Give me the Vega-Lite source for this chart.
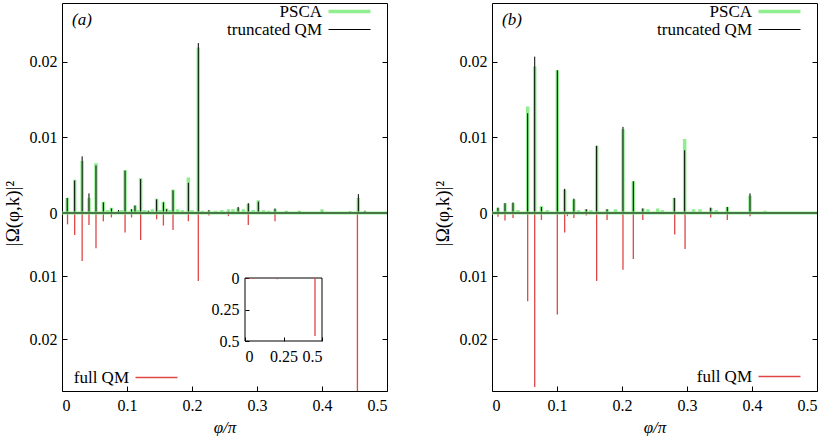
{
"$schema": "https://vega.github.io/schema/vega-lite/v6.json",
"autosize": {"type": "pad"},
"padding": {"left": 2, "top": 2, "right": 12, "bottom": 0},
"bounds": "flush",
"spacing": 105,
"config": {
  "font": "Liberation Serif",
  "view": {"stroke": "black", "strokeWidth": 1},
  "axis": {"labelColor": "black", "tickColor": "black", "labelFontSize": 16, "titleFontSize": 16, "titleFontWeight": "normal", "titleColor": "black", "grid": false, "domain": false, "labelFont": "Liberation Serif", "titleFont": "Liberation Serif"},
  "legend": {"labelFont": "Liberation Serif", "labelFontSize": 17, "labelColor": "black"}
},
"datasets": {
  "a_top": [
    {"phi": 0.008, "series": "PSCA", "value": 0.0020},
    {"phi": 0.0195, "series": "PSCA", "value": 0.0044},
    {"phi": 0.031, "series": "PSCA", "value": 0.0069},
    {"phi": 0.0415, "series": "PSCA", "value": 0.0020},
    {"phi": 0.0523, "series": "PSCA", "value": 0.0066},
    {"phi": 0.0636, "series": "PSCA", "value": 0.0015},
    {"phi": 0.07, "series": "PSCA", "value": 0.0004},
    {"phi": 0.076, "series": "PSCA", "value": 0.0007},
    {"phi": 0.087, "series": "PSCA", "value": 0.0003},
    {"phi": 0.092, "series": "PSCA", "value": 0.0004},
    {"phi": 0.097, "series": "PSCA", "value": 0.0057},
    {"phi": 0.107, "series": "PSCA", "value": 0.0005},
    {"phi": 0.1123, "series": "PSCA", "value": 0.0010},
    {"phi": 0.116, "series": "PSCA", "value": 0.0004},
    {"phi": 0.121, "series": "PSCA", "value": 0.0046},
    {"phi": 0.127, "series": "PSCA", "value": 0.0004},
    {"phi": 0.133, "series": "PSCA", "value": 0.0003},
    {"phi": 0.139, "series": "PSCA", "value": 0.0005},
    {"phi": 0.1456, "series": "PSCA", "value": 0.0019},
    {"phi": 0.151, "series": "PSCA", "value": 0.0004},
    {"phi": 0.156, "series": "PSCA", "value": 0.0015},
    {"phi": 0.161, "series": "PSCA", "value": 0.0006},
    {"phi": 0.166, "series": "PSCA", "value": 0.0004},
    {"phi": 0.1708, "series": "PSCA", "value": 0.0031},
    {"phi": 0.178, "series": "PSCA", "value": 0.0005},
    {"phi": 0.185, "series": "PSCA", "value": 0.0004},
    {"phi": 0.1944, "series": "PSCA", "value": 0.0047},
    {"phi": 0.2, "series": "PSCA", "value": 0.0004},
    {"phi": 0.2097, "series": "PSCA", "value": 0.0219},
    {"phi": 0.216, "series": "PSCA", "value": 0.0003},
    {"phi": 0.226, "series": "PSCA", "value": 0.0003},
    {"phi": 0.236, "series": "PSCA", "value": 0.0003},
    {"phi": 0.246, "series": "PSCA", "value": 0.0004},
    {"phi": 0.256, "series": "PSCA", "value": 0.0005},
    {"phi": 0.263, "series": "PSCA", "value": 0.0005},
    {"phi": 0.271, "series": "PSCA", "value": 0.0007},
    {"phi": 0.279, "series": "PSCA", "value": 0.0005},
    {"phi": 0.2866, "series": "PSCA", "value": 0.0012},
    {"phi": 0.294, "series": "PSCA", "value": 0.0004},
    {"phi": 0.302, "series": "PSCA", "value": 0.0017},
    {"phi": 0.31, "series": "PSCA", "value": 0.0004},
    {"phi": 0.318, "series": "PSCA", "value": 0.0003},
    {"phi": 0.3277, "series": "PSCA", "value": 0.0005},
    {"phi": 0.345, "series": "PSCA", "value": 0.0003},
    {"phi": 0.365, "series": "PSCA", "value": 0.0003},
    {"phi": 0.4, "series": "PSCA", "value": 0.0005},
    {"phi": 0.443, "series": "PSCA", "value": 0.0002},
    {"phi": 0.4559, "series": "PSCA", "value": 0.0020},
    {"phi": 0.466, "series": "PSCA", "value": 0.0002},
    {"phi": 0.008, "series": "truncated QM", "value": 0.0020},
    {"phi": 0.0195, "series": "truncated QM", "value": 0.0043},
    {"phi": 0.031, "series": "truncated QM", "value": 0.0075},
    {"phi": 0.0415, "series": "truncated QM", "value": 0.0026},
    {"phi": 0.0523, "series": "truncated QM", "value": 0.0063},
    {"phi": 0.0636, "series": "truncated QM", "value": 0.0014},
    {"phi": 0.076, "series": "truncated QM", "value": 0.0006},
    {"phi": 0.087, "series": "truncated QM", "value": 0.0004},
    {"phi": 0.097, "series": "truncated QM", "value": 0.0056},
    {"phi": 0.107, "series": "truncated QM", "value": 0.0005},
    {"phi": 0.1123, "series": "truncated QM", "value": 0.0010},
    {"phi": 0.121, "series": "truncated QM", "value": 0.0045},
    {"phi": 0.133, "series": "truncated QM", "value": 0.0003},
    {"phi": 0.1456, "series": "truncated QM", "value": 0.0018},
    {"phi": 0.156, "series": "truncated QM", "value": 0.0014},
    {"phi": 0.161, "series": "truncated QM", "value": 0.0005},
    {"phi": 0.1708, "series": "truncated QM", "value": 0.0030},
    {"phi": 0.1944, "series": "truncated QM", "value": 0.0040},
    {"phi": 0.2097, "series": "truncated QM", "value": 0.0225},
    {"phi": 0.226, "series": "truncated QM", "value": 0.0004},
    {"phi": 0.256, "series": "truncated QM", "value": 0.0002},
    {"phi": 0.271, "series": "truncated QM", "value": 0.0008},
    {"phi": 0.2866, "series": "truncated QM", "value": 0.0013},
    {"phi": 0.302, "series": "truncated QM", "value": 0.0015},
    {"phi": 0.3277, "series": "truncated QM", "value": 0.0006},
    {"phi": 0.345, "series": "truncated QM", "value": 0.0002},
    {"phi": 0.365, "series": "truncated QM", "value": 0.0002},
    {"phi": 0.4, "series": "truncated QM", "value": 0.0002},
    {"phi": 0.443, "series": "truncated QM", "value": 0.0002},
    {"phi": 0.4559, "series": "truncated QM", "value": 0.0025},
    {"phi": 0.466, "series": "truncated QM", "value": 0.0003}
  ],
  "a_full": [
    {"phi": 0.0085, "series": "full QM", "value": 0.0018},
    {"phi": 0.0195, "series": "full QM", "value": 0.0035},
    {"phi": 0.031, "series": "full QM", "value": 0.0076},
    {"phi": 0.0415, "series": "full QM", "value": 0.0019},
    {"phi": 0.0523, "series": "full QM", "value": 0.0056},
    {"phi": 0.0636, "series": "full QM", "value": 0.0013},
    {"phi": 0.076, "series": "full QM", "value": 0.0007},
    {"phi": 0.097, "series": "full QM", "value": 0.0031},
    {"phi": 0.107, "series": "full QM", "value": 0.0007},
    {"phi": 0.121, "series": "full QM", "value": 0.0043},
    {"phi": 0.1456, "series": "full QM", "value": 0.0010},
    {"phi": 0.156, "series": "full QM", "value": 0.0020},
    {"phi": 0.1708, "series": "full QM", "value": 0.0027},
    {"phi": 0.1944, "series": "full QM", "value": 0.0013},
    {"phi": 0.2097, "series": "full QM", "value": 0.0108},
    {"phi": 0.226, "series": "full QM", "value": 0.0004},
    {"phi": 0.256, "series": "full QM", "value": 0.0005},
    {"phi": 0.2866, "series": "full QM", "value": 0.0019},
    {"phi": 0.3277, "series": "full QM", "value": 0.0013},
    {"phi": 0.4545, "series": "full QM", "value": 0.46}
  ],
  "b_top": [
    {"phi": 0.0092, "series": "PSCA", "value": 0.0007},
    {"phi": 0.020, "series": "PSCA", "value": 0.0013},
    {"phi": 0.0323, "series": "PSCA", "value": 0.0013},
    {"phi": 0.04, "series": "PSCA", "value": 0.0004},
    {"phi": 0.0549, "series": "PSCA", "value": 0.0141},
    {"phi": 0.0657, "series": "PSCA", "value": 0.0194},
    {"phi": 0.076, "series": "PSCA", "value": 0.0009},
    {"phi": 0.085, "series": "PSCA", "value": 0.0004},
    {"phi": 0.1005, "series": "PSCA", "value": 0.0189},
    {"phi": 0.1118, "series": "PSCA", "value": 0.0031},
    {"phi": 0.126, "series": "PSCA", "value": 0.0018},
    {"phi": 0.133, "series": "PSCA", "value": 0.0004},
    {"phi": 0.145, "series": "PSCA", "value": 0.0005},
    {"phi": 0.152, "series": "PSCA", "value": 0.0004},
    {"phi": 0.161, "series": "PSCA", "value": 0.0089},
    {"phi": 0.177, "series": "PSCA", "value": 0.0005},
    {"phi": 0.19, "series": "PSCA", "value": 0.0005},
    {"phi": 0.2015, "series": "PSCA", "value": 0.0111},
    {"phi": 0.2174, "series": "PSCA", "value": 0.0042},
    {"phi": 0.232, "series": "PSCA", "value": 0.0006},
    {"phi": 0.24, "series": "PSCA", "value": 0.0005},
    {"phi": 0.255, "series": "PSCA", "value": 0.0006},
    {"phi": 0.262, "series": "PSCA", "value": 0.0004},
    {"phi": 0.2805, "series": "PSCA", "value": 0.0020},
    {"phi": 0.2964, "series": "PSCA", "value": 0.0098},
    {"phi": 0.31, "series": "PSCA", "value": 0.0005},
    {"phi": 0.32, "series": "PSCA", "value": 0.0005},
    {"phi": 0.3365, "series": "PSCA", "value": 0.0007},
    {"phi": 0.345, "series": "PSCA", "value": 0.0004},
    {"phi": 0.362, "series": "PSCA", "value": 0.0008},
    {"phi": 0.3969, "series": "PSCA", "value": 0.0023},
    {"phi": 0.42, "series": "PSCA", "value": 0.0003},
    {"phi": 0.0092, "series": "truncated QM", "value": 0.0007},
    {"phi": 0.020, "series": "truncated QM", "value": 0.0013},
    {"phi": 0.0323, "series": "truncated QM", "value": 0.0014},
    {"phi": 0.0549, "series": "truncated QM", "value": 0.0132},
    {"phi": 0.0657, "series": "truncated QM", "value": 0.0207},
    {"phi": 0.076, "series": "truncated QM", "value": 0.0008},
    {"phi": 0.1005, "series": "truncated QM", "value": 0.0189},
    {"phi": 0.1118, "series": "truncated QM", "value": 0.0032},
    {"phi": 0.126, "series": "truncated QM", "value": 0.0019},
    {"phi": 0.145, "series": "truncated QM", "value": 0.0005},
    {"phi": 0.161, "series": "truncated QM", "value": 0.0089},
    {"phi": 0.177, "series": "truncated QM", "value": 0.0005},
    {"phi": 0.2015, "series": "truncated QM", "value": 0.0114},
    {"phi": 0.2174, "series": "truncated QM", "value": 0.0042},
    {"phi": 0.232, "series": "truncated QM", "value": 0.0006},
    {"phi": 0.2805, "series": "truncated QM", "value": 0.0020},
    {"phi": 0.2964, "series": "truncated QM", "value": 0.0083},
    {"phi": 0.3365, "series": "truncated QM", "value": 0.0007},
    {"phi": 0.362, "series": "truncated QM", "value": 0.0008},
    {"phi": 0.3969, "series": "truncated QM", "value": 0.0026}
  ],
  "b_full": [
    {"phi": 0.0092, "series": "full QM", "value": 0.0006},
    {"phi": 0.020, "series": "full QM", "value": 0.0012},
    {"phi": 0.0323, "series": "full QM", "value": 0.0008},
    {"phi": 0.0549, "series": "full QM", "value": 0.0140},
    {"phi": 0.0657, "series": "full QM", "value": 0.0276},
    {"phi": 0.076, "series": "full QM", "value": 0.0011},
    {"phi": 0.1005, "series": "full QM", "value": 0.0161},
    {"phi": 0.1118, "series": "full QM", "value": 0.0031},
    {"phi": 0.116, "series": "full QM", "value": 0.0005},
    {"phi": 0.126, "series": "full QM", "value": 0.0008},
    {"phi": 0.145, "series": "full QM", "value": 0.0004},
    {"phi": 0.161, "series": "full QM", "value": 0.0108},
    {"phi": 0.177, "series": "full QM", "value": 0.0011},
    {"phi": 0.2015, "series": "full QM", "value": 0.0090},
    {"phi": 0.2174, "series": "full QM", "value": 0.0073},
    {"phi": 0.232, "series": "full QM", "value": 0.0011},
    {"phi": 0.2811, "series": "full QM", "value": 0.0034},
    {"phi": 0.297, "series": "full QM", "value": 0.0057},
    {"phi": 0.3365, "series": "full QM", "value": 0.0007},
    {"phi": 0.362, "series": "full QM", "value": 0.0011},
    {"phi": 0.397, "series": "full QM", "value": 0.0005}
  ]
},
"resolve": {"scale": {"color": "independent", "strokeWidth": "independent"}},
"hconcat": [
  {
    "width": 325, "height": 388,
    "title": {"text": "(a)", "anchor": "start", "frame": "group", "offset": -26, "dx": 10, "fontStyle": "italic", "fontWeight": "normal", "fontSize": 17, "font": "Liberation Serif", "color": "black"},
    "resolve": {"scale": {"x": "independent", "y": "independent", "color": "independent", "strokeWidth": "independent"}},
    "layer": [
      {
        "resolve": {"scale": {"y": "independent", "color": "independent", "strokeWidth": "independent"}},
        "layer": [
          {
            "data": {"name": "a_top"},
            "mark": {"type": "rule"},
            "encoding": {
              "x": {"field": "phi", "type": "quantitative", "scale": {"domain": [0, 0.5], "nice": false, "zero": false},
                    "axis": {"orient": "bottom", "values": [0, 0.1, 0.2, 0.3, 0.4, 0.5], "format": "~g", "tickSize": -5, "labelPadding": 11, "labelFontSize": 16, "title": "φ/π", "titleFontStyle": "italic", "titleFontSize": 17, "titlePadding": 6}},
              "y": {"field": "value", "type": "quantitative", "scale": {"domain": [0, 0.0278], "range": [210, 0], "nice": false, "zero": false}, "axis": null},
              "y2": {"datum": 0},
              "color": {"field": "series", "type": "ordinal", "scale": {"domain": ["PSCA", "truncated QM"], "range": ["#90ee90", "#000000"]},
                        "legend": {"orient": "none", "legendX": 279, "legendY": 0, "title": null, "symbolType": "M-4,0H4", "symbolSize": 110, "labelAlign": "right", "labelOffset": -36, "labelFontSize": 17, "rowPadding": 0, "padding": 0}},
              "strokeWidth": {"field": "series", "type": "ordinal", "scale": {"domain": ["PSCA", "truncated QM"], "range": [3.5, 1]},
                        "legend": {"orient": "none", "legendX": 279, "legendY": 0, "title": null, "symbolType": "M-4,0H4", "symbolSize": 110, "labelAlign": "right", "labelOffset": -36, "labelFontSize": 17, "rowPadding": 0, "padding": 0}}
            }
          },
          {
            "data": {"name": "a_full"},
            "mark": {"type": "rule", "strokeWidth": 1.3},
            "encoding": {
              "x": {"field": "phi", "type": "quantitative"},
              "y": {"field": "value", "type": "quantitative", "scale": {"domain": [0, 0.02825], "range": [210, 388], "nice": false, "zero": false, "clamp": true}, "axis": null},
              "y2": {"datum": 0},
              "color": {"field": "series", "type": "nominal", "scale": {"domain": ["full QM"], "range": ["#e04646"]},
                        "legend": {"orient": "none", "legendX": 86, "legendY": 366, "title": null, "symbolType": "M-4,0H4", "symbolSize": 110, "symbolStrokeWidth": 1.3, "labelAlign": "right", "labelOffset": -36, "labelFontSize": 17, "padding": 0}}
            }
          },
          {
            "data": {"values": [{}]},
            "mark": {"type": "rule", "color": "#90ee90", "strokeWidth": 3},
            "encoding": {
              "x": {"datum": 0, "type": "quantitative"},
              "x2": {"datum": 0.5},
              "y": {"datum": 0, "type": "quantitative", "scale": {"domain": [-0.02825, 0, 0.0278], "range": [388, 210, 0], "nice": false, "zero": false},
                    "axis": {"orient": "left", "values": [-0.02, -0.01, 0, 0.01, 0.02], "labelExpr": "datum.value == 0 ? '0' : format(abs(datum.value), '.2f')", "tickSize": -5, "labelPadding": 10, "labelFontSize": 16,
                             "title": "|Ω(φ,k)|²", "titleFontSize": 19, "titleX": -50, "titleY": 210, "titleAlign": "center", "titleBaseline": "middle", "titleAngle": -90}}
            }
          },
          {
            "data": {"values": [{}]},
            "mark": {"type": "rule", "color": "black", "strokeWidth": 1},
            "encoding": {
              "x": {"datum": 0, "type": "quantitative"},
              "x2": {"datum": 0.5},
              "y": {"datum": 0, "type": "quantitative", "scale": {"domain": [-0.02825, 0, 0.0278], "range": [388, 210, 0], "nice": false, "zero": false},
                    "axis": {"orient": "right", "values": [-0.02, -0.01, 0, 0.01, 0.02], "labels": false, "tickSize": -5, "title": null}}
            }
          }
        ]
      },
      {
        "layer": [
          {
            "data": {"values": [{}]},
            "mark": {"type": "rect", "fill": "transparent", "stroke": "black", "strokeWidth": 1},
            "encoding": {
              "x": {"datum": 0, "type": "quantitative", "scale": {"domain": [0, 0.5], "range": [183, 260], "nice": false, "zero": false},
                    "axis": {"orient": "bottom", "offset": -50, "values": [0, 0.25, 0.5], "format": "~g", "tickSize": -4, "labelPadding": 11, "labelFontSize": 16, "title": null}},
              "x2": {"datum": 0.5},
              "y": {"datum": 0, "type": "quantitative", "scale": {"domain": [0, 0.5], "range": [275, 338], "nice": false, "zero": false},
                    "axis": {"orient": "left", "offset": -183, "values": [0, 0.25, 0.5], "format": "~g", "tickSize": -4, "labelPadding": 10, "labelFontSize": 16, "title": null}},
              "y2": {"datum": 0.5}
            }
          },
          {
            "data": {"name": "a_full"},
            "mark": {"type": "rule", "strokeWidth": 1.3, "color": "#e04646"},
            "encoding": {
              "x": {"field": "phi", "type": "quantitative"},
              "y": {"field": "value", "type": "quantitative"},
              "y2": {"datum": 0}
            }
          }
        ]
      }
    ]
  },
  {
    "width": 325, "height": 388,
    "title": {"text": "(b)", "anchor": "start", "frame": "group", "offset": -26, "dx": 10, "fontStyle": "italic", "fontWeight": "normal", "fontSize": 17, "font": "Liberation Serif", "color": "black"},
    "resolve": {"scale": {"y": "independent", "color": "independent", "strokeWidth": "independent"}},
    "layer": [
      {
        "data": {"name": "b_top"},
        "mark": {"type": "rule"},
        "encoding": {
          "x": {"field": "phi", "type": "quantitative", "scale": {"domain": [0, 0.5], "nice": false, "zero": false},
                "axis": {"orient": "bottom", "values": [0, 0.1, 0.2, 0.3, 0.4, 0.5], "format": "~g", "tickSize": -5, "labelPadding": 11, "labelFontSize": 16, "title": "φ/π", "titleFontStyle": "italic", "titleFontSize": 17, "titlePadding": 6}},
          "y": {"field": "value", "type": "quantitative", "scale": {"domain": [0, 0.0278], "range": [210, 0], "nice": false, "zero": false}, "axis": null},
          "y2": {"datum": 0},
          "color": {"field": "series", "type": "ordinal", "scale": {"domain": ["PSCA", "truncated QM"], "range": ["#90ee90", "#000000"]},
                    "legend": {"orient": "none", "legendX": 279, "legendY": 0, "title": null, "symbolType": "M-4,0H4", "symbolSize": 110, "labelAlign": "right", "labelOffset": -36, "labelFontSize": 17, "rowPadding": 0, "padding": 0}},
          "strokeWidth": {"field": "series", "type": "ordinal", "scale": {"domain": ["PSCA", "truncated QM"], "range": [3.5, 1]},
                    "legend": {"orient": "none", "legendX": 279, "legendY": 0, "title": null, "symbolType": "M-4,0H4", "symbolSize": 110, "labelAlign": "right", "labelOffset": -36, "labelFontSize": 17, "rowPadding": 0, "padding": 0}}
        }
      },
      {
        "data": {"name": "b_full"},
        "mark": {"type": "rule", "strokeWidth": 1.3},
        "encoding": {
          "x": {"field": "phi", "type": "quantitative"},
          "y": {"field": "value", "type": "quantitative", "scale": {"domain": [0, 0.02825], "range": [210, 388], "nice": false, "zero": false, "clamp": true}, "axis": null},
          "y2": {"datum": 0},
          "color": {"field": "series", "type": "nominal", "scale": {"domain": ["full QM"], "range": ["#e04646"]},
                    "legend": {"orient": "none", "legendX": 279, "legendY": 365, "title": null, "symbolType": "M-4,0H4", "symbolSize": 110, "symbolStrokeWidth": 1.3, "labelAlign": "right", "labelOffset": -36, "labelFontSize": 17, "padding": 0}}
        }
      },
      {
        "data": {"values": [{}]},
        "mark": {"type": "rule", "color": "#90ee90", "strokeWidth": 3},
        "encoding": {
          "x": {"datum": 0, "type": "quantitative"},
          "x2": {"datum": 0.5},
          "y": {"datum": 0, "type": "quantitative", "scale": {"domain": [-0.02825, 0, 0.0278], "range": [388, 210, 0], "nice": false, "zero": false},
                "axis": {"orient": "left", "values": [-0.02, -0.01, 0, 0.01, 0.02], "labelExpr": "datum.value == 0 ? '0' : format(abs(datum.value), '.2f')", "tickSize": -5, "labelPadding": 10, "labelFontSize": 16,
                         "title": "|Ω(φ,k)|²", "titleFontSize": 19, "titleX": -50, "titleY": 210, "titleAlign": "center", "titleBaseline": "middle", "titleAngle": -90}}
        }
      },
      {
        "data": {"values": [{}]},
        "mark": {"type": "rule", "color": "black", "strokeWidth": 1},
        "encoding": {
          "x": {"datum": 0, "type": "quantitative"},
          "x2": {"datum": 0.5},
          "y": {"datum": 0, "type": "quantitative", "scale": {"domain": [-0.02825, 0, 0.0278], "range": [388, 210, 0], "nice": false, "zero": false},
                "axis": {"orient": "right", "values": [-0.02, -0.01, 0, 0.01, 0.02], "labels": false, "tickSize": -5, "title": null}}
        }
      }
    ]
  }
]
}
